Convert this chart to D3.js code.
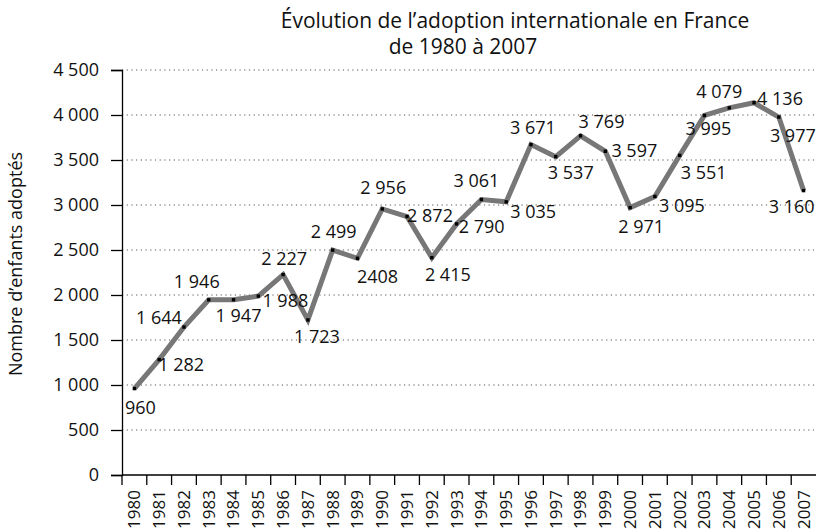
<!DOCTYPE html>
<html>
<head>
<meta charset="utf-8">
<script src="https://cdn.jsdelivr.net/npm/d3@7"></script>
<style>
  html, body { margin: 0; padding: 0; background: #fff; }
  svg { display: block; font-family: "Open Sans", "Noto Sans", sans-serif; }
</style>
</head>
<body>
<svg id="chart" width="816" height="532"></svg>
<script>
const years = ["1980","1981","1982","1983","1984","1985","1986","1987","1988","1989","1990","1991","1992","1993","1994","1995","1996","1997","1998","1999","2000","2001","2002","2003","2004","2005","2006","2007"];
const adoptions = [960,1282,1644,1946,1947,1988,2227,1723,2499,2408,2956,2872,2415,2790,3061,3035,3671,3537,3769,3597,2971,3095,3551,3995,4079,4136,3977,3160];
const valueLabels = ["960","1 282","1 644","1 946","1 947","1 988","2 227","1 723","2 499","2408","2 956","2 872","2 415","2 790","3 061","3 035","3 671","3 537","3 769","3 597","2 971","3 095","3 551","3 995","4 079","4 136","3 977","3 160"];
const yTicks = [0,500,1000,1500,2000,2500,3000,3500,4000,4500];
const yTickLabels = ["0","500","1 000","1 500","2 000","2 500","3 000","3 500","4 000","4 500"];
const titleLines = ["Évolution de l’adoption internationale en France", "de 1980 à 2007"];
const yTitle = "Nombre d’enfants adoptés";

// label placement (offset of label centre from its point, px)
const labelOffsets = [[6,19],[22,5],[-25,-10],[-12,-18],[5,16],[27,4],[1,-16],[9,17],[1,-19],[20,18],[1,-21],[23,-1],[16,17],[25,3],[-5,-19],[27,10],[2,-17],[15,16],[21,-14],[29,-1],[11,19],[27,9],[24,17],[4,13],[-10,-16],[26,-4],[14,18],[-12,16]];

(function () {
const svg = d3.select("#chart");
const mLeft = 122, mRight = 816, mTop = 70, mBottom = 475;

const x = d3.scaleBand().domain(years).range([mLeft, mRight]).padding(0);
const y = d3.scaleLinear().domain([0, 4500]).range([mBottom, mTop]);

// grid
svg.append("g").selectAll("line").data(yTicks.filter(d => d > 0)).join("line")
  .attr("x1", mLeft).attr("x2", mRight)
  .attr("y1", d => y(d)).attr("y2", d => y(d))
  .attr("stroke", "#555").attr("stroke-width", 1)
  .attr("stroke-dasharray", "1.2,3.5");

// y axis
const yAxis = d3.axisLeft(y).tickValues(yTicks)
  .tickFormat((d, i) => yTickLabels[i]).tickSize(11).tickPadding(12);
const gy = svg.append("g").attr("transform", `translate(${mLeft},0)`).call(yAxis);
gy.select(".domain").attr("stroke", "#000").attr("stroke-width", 1.3);
gy.selectAll(".tick line").attr("stroke", "#000").attr("stroke-width", 1.3);
gy.selectAll(".tick text").attr("font-size", 18).attr("fill", "#111")
  .attr("font-family", "Open Sans, sans-serif");

// x axis (labels at band centres, ticks at band boundaries)
const xAxis = d3.axisBottom(x).tickSize(0).tickPadding(0);
const gx = svg.append("g").attr("transform", `translate(0,${mBottom})`).call(xAxis);
gx.select(".domain").attr("stroke", "#000").attr("stroke-width", 1.3).attr("d", `M${mLeft},0H${mRight}`);
gx.selectAll(".tick text")
  .attr("font-size", 17).attr("fill", "#111")
  .attr("font-family", "Open Sans, sans-serif")
  .attr("text-anchor", "end")
  .attr("transform", "rotate(-90)")
  .attr("x", -15).attr("y", 0).attr("dy", "0.35em");
gx.append("g").selectAll("line").data(years).join("line")
  .attr("x1", d => x(d)).attr("x2", d => x(d))
  .attr("y1", 0).attr("y2", 10)
  .attr("stroke", "#000").attr("stroke-width", 1.3);

// line
const cx = (d, i) => x(years[i]) + x.bandwidth() / 2;
const line = d3.line().x((d, i) => cx(d, i)).y(d => y(d));
svg.append("path").datum(adoptions)
  .attr("d", line).attr("fill", "none")
  .attr("stroke", "#777").attr("stroke-width", 5)
  .attr("stroke-linejoin", "miter");

// markers
svg.append("g").selectAll("rect").data(adoptions).join("rect")
  .attr("x", (d, i) => cx(d, i) - 1.7).attr("y", d => y(d) - 1.7)
  .attr("width", 3.4).attr("height", 3.4).attr("fill", "#000");

// value labels
svg.append("g").selectAll("text").data(adoptions).join("text")
  .attr("x", (d, i) => cx(d, i) + labelOffsets[i][0])
  .attr("y", (d, i) => y(d) + labelOffsets[i][1])
  .attr("dy", "0.36em")
  .attr("text-anchor", "middle")
  .attr("font-size", 18).attr("fill", "#111")
  .text((d, i) => valueLabels[i]);

// title
svg.append("text").attr("x", 515).attr("y", 28).attr("text-anchor", "middle")
  .attr("font-size", 21).attr("fill", "#111").text(titleLines[0]);
svg.append("text").attr("x", 463).attr("y", 54).attr("text-anchor", "middle")
  .attr("font-size", 21).attr("fill", "#111").text(titleLines[1]);

// y title
svg.append("text").attr("transform", "translate(22,264) rotate(-90)")
  .attr("text-anchor", "middle").attr("font-size", 18).attr("fill", "#111")
  .text(yTitle);
})();
</script>
</body>
</html>
